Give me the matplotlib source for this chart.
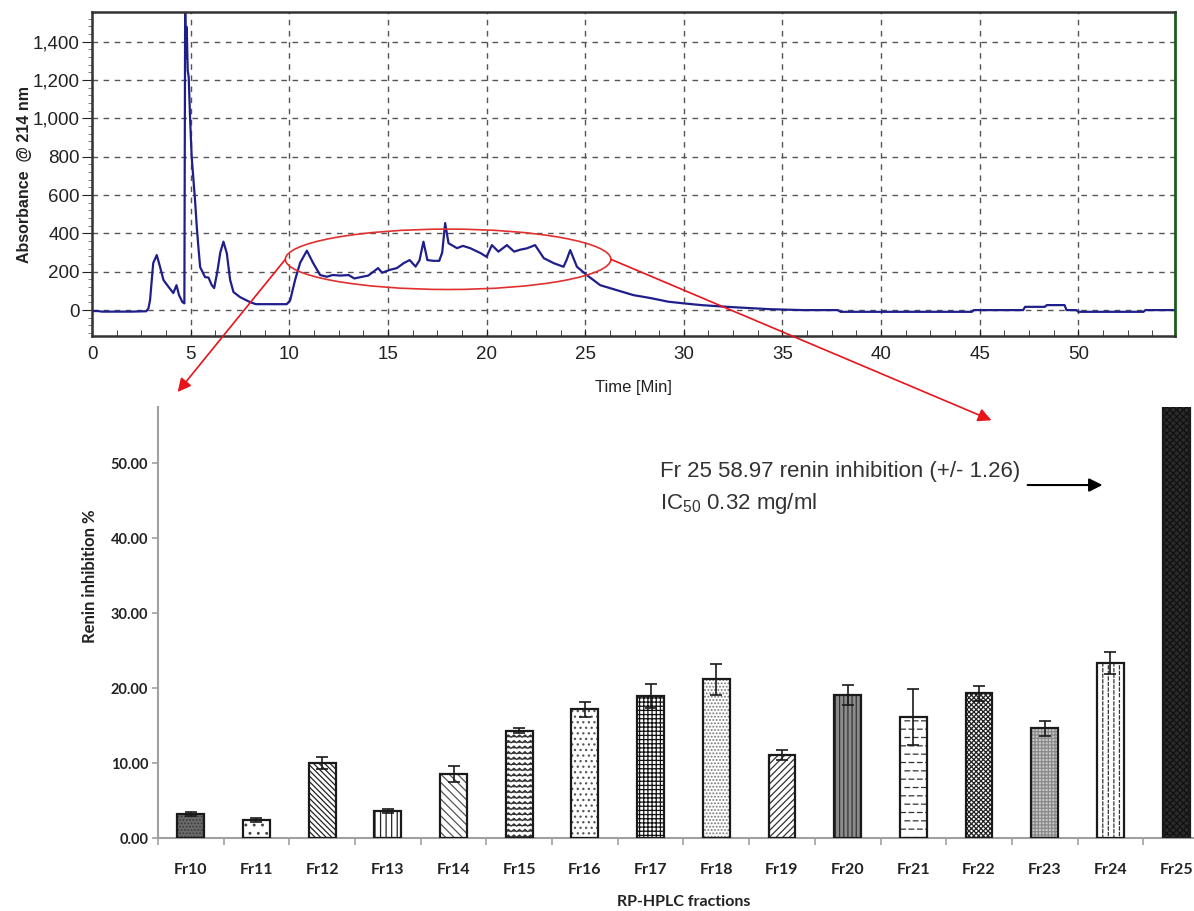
import warnings
from functools import partial

import numpy as np
import matplotlib

matplotlib.use('Agg')
import matplotlib.pyplot as plt
import matplotlib.hatch as mhatch
from matplotlib.path import Path
from matplotlib.patches import Ellipse, ConnectionPatch
from matplotlib.ticker import MultipleLocator, FuncFormatter

plt.rcParams['font.family'] = 'Liberation Sans'
plt.rcParams['hatch.linewidth'] = 0.9

# RP-HPLC chromatogram, absorbance at 214 nm
time_min = [
    0.0, 0.3, 0.5, 1.0, 2.0, 2.75, 2.86, 2.94, 3.1, 3.28,
    3.45, 3.62, 3.87, 4.12, 4.28, 4.41, 4.58, 4.68, 4.72, 4.76,
    4.80, 4.85, 4.90, 4.97, 5.05, 5.14, 5.22, 5.31, 5.39, 5.48,
    5.73, 5.90, 6.07, 6.19, 6.35, 6.50, 6.66, 6.83, 7.00, 7.17,
    7.50, 8.00, 8.30, 9.00, 9.87, 10.04, 10.30, 10.55, 10.89, 11.20,
    11.56, 11.90, 12.20, 12.60, 13.00, 13.30, 13.70, 14.00, 14.26, 14.50,
    14.70, 15.10, 15.45, 15.80, 16.10, 16.40, 16.60, 16.80, 17.00, 17.30,
    17.60, 17.75, 17.90, 18.07, 18.50, 18.80, 19.17, 19.70, 20.00, 20.27,
    20.60, 21.03, 21.40, 21.70, 22.04, 22.46, 22.90, 23.40, 23.90, 24.05,
    24.24, 24.58, 25.08, 25.76, 26.60, 27.45, 28.30, 29.20, 30.00, 30.90,
    32.20, 34.30, 36.00, 37.80, 37.95, 44.60, 44.70, 47.20, 47.30, 48.30,
    48.40, 49.30, 49.40, 49.90, 50.00, 53.30, 53.40, 55.00]
absorbance = [
    -5, -5, -8, -8, -8, -6, 10, 52, 245, 287,
    224, 157, 122, 89, 130, 78, 42, 35, 1600, 1310,
    1477, 1250, 1216, 1000, 800, 679, 574, 433, 329, 224,
    172, 170, 130, 115, 200, 300, 357, 297, 157, 94,
    68, 42, 31, 31, 31, 50, 160, 247, 310, 247,
    183, 174, 183, 180, 183, 165, 174, 180, 200, 219,
    195, 210, 219, 245, 261, 227, 260, 357, 261, 257,
    257, 300, 454, 349, 323, 335, 323, 297, 278, 339,
    305, 339, 305, 315, 322, 339, 271, 245, 226, 260,
    313, 226, 183, 130, 104, 78, 63, 44, 35, 26,
    17, 5, 0, 0, -9, -9, 0, 0, 17, 17,
    26, 26, 0, 0, -9, -9, 0, 0]

# renin inhibition of the collected fractions (mean, sd)
fractions = ['Fr10', 'Fr11', 'Fr12', 'Fr13', 'Fr14', 'Fr15', 'Fr16', 'Fr17',
             'Fr18', 'Fr19', 'Fr20', 'Fr21', 'Fr22', 'Fr23', 'Fr24', 'Fr25']
inhibition = [3.2, 2.4, 10.0, 3.65, 8.55, 14.3, 17.2, 19.0,
              21.15, 11.07, 19.05, 16.1, 19.3, 14.62, 23.33, 58.97]
inhibition_sd = [0.3, 0.3, 0.85, 0.25, 1.1, 0.35, 1.0, 1.6,
                 2.05, 0.65, 1.3, 3.75, 1.0, 0.98, 1.5, 1.26]

# fill for each bar: face colour, hatch, hatch colour
# (z = zigzag rows, _ = staggered dashes, : = vertical dashes)
bar_styles = [
    ('#6b6b6b', '.....', '#3a3a3a'),
    ('white', '..', '#444444'),
    ('white', '\\\\\\\\\\\\', '#222222'),
    ('white', '|||', '#222222'),
    ('white', '\\\\\\\\', '#555555'),
    ('white', 'zzz', '#333333'),
    ('white', '...', '#555555'),
    ('white', '++++', '#111111'),
    ('white', '.....', '#777777'),
    ('white', '/////', '#333333'),
    ('#8c8c8c', '||||', '#333333'),
    ('white', '__', '#333333'),
    ('white', 'xxxxxxx', '#222222'),
    ('#c8c8c8', '+++++', '#8a8a8a'),
    ('white', ':::', '#333333'),
    ('#2b2b2b', 'xxxxx', '#111111'),
]


class ZigZagHatch(mhatch.HatchPatternBase):
    """Rows of horizontal zigzags, one set of rows per 'z'."""

    def __init__(self, hatch, density):
        self.num_rows = int(hatch.count('z') * density)
        self.num_vertices = self.num_rows * (2 * self.num_rows + 1)

    def set_vertices_and_codes(self, vertices, codes):
        n = 2 * self.num_rows + 1
        xs = np.linspace(0.0, 1.0, n)
        amp = 0.2 / self.num_rows
        wiggle = np.where(np.arange(n) % 2 == 0, -amp, amp)
        for r in range(self.num_rows):
            seg = slice(r * n, (r + 1) * n)
            vertices[seg, 0] = xs
            vertices[seg, 1] = (r + 0.5) / self.num_rows + wiggle
            codes[seg] = Path.LINETO
            codes[r * n] = Path.MOVETO


class DashHatch(mhatch.HatchPatternBase):
    """Staggered short dashes, horizontal or vertical."""

    def __init__(self, hatch, density, char='_', vertical=False):
        self.num_rows = int(hatch.count(char) * density)
        self.vertical = vertical
        self.num_vertices = 2 * self.num_rows * self.num_rows

    def set_vertices_and_codes(self, vertices, codes):
        n = self.num_rows
        k = 0
        for r in range(n):
            for j in range(n):
                x0 = (j + 0.5 * (r % 2) + 0.1) / n
                pts = [(x0, (r + 0.5) / n), (x0 + 0.55 / n, (r + 0.5) / n)]
                for p in pts:
                    vertices[k] = p[::-1] if self.vertical else p
                    k += 1
        codes[0::2] = Path.MOVETO
        codes[1::2] = Path.LINETO


mhatch._hatch_types.extend([ZigZagHatch,
                            partial(DashHatch, char='_', vertical=False),
                            partial(DashHatch, char=':', vertical=True)])


def main():
    fig = plt.figure(figsize=(11.94, 9.11), dpi=100, facecolor='w')

    # --- chromatogram ---
    ax1 = fig.add_axes([0.0771, 0.6312, 0.9070, 0.3556])
    ax1.plot(time_min, absorbance, color='#1f1f8c', lw=1.6)
    ax1.set_xlim(0, 54.9)
    ax1.set_ylim(-135, 1555)
    ax1.xaxis.set_major_locator(MultipleLocator(5))
    ax1.xaxis.set_minor_locator(MultipleLocator(1.25))
    ax1.yaxis.set_major_locator(MultipleLocator(200))
    ax1.yaxis.set_minor_locator(MultipleLocator(40))
    ax1.yaxis.set_major_formatter(FuncFormatter(lambda v, p: f'{v:,.0f}'))
    ax1.grid(True, which='major', ls=(0, (4, 4)), color='#555555', lw=1.0)
    ax1.tick_params(axis='x', which='major', direction='in', length=5,
                    labelsize=13.5, colors='#222222', pad=7)
    ax1.tick_params(axis='x', which='minor', direction='in', length=4, color='#222222')
    ax1.tick_params(axis='y', which='major', direction='out', length=7,
                    labelsize=13.5, colors='#222222', pad=2)
    ax1.tick_params(axis='y', which='minor', direction='out', length=3, color='#666666')
    for side in ['left', 'top', 'bottom']:
        ax1.spines[side].set_color('#333333')
        ax1.spines[side].set_linewidth(1.8)
    ax1.spines['right'].set_color('#1e5a1e')
    ax1.spines['right'].set_linewidth(2.0)
    ax1.set_xlabel('Time [Min]', fontsize=12, color='#222222')
    ax1.xaxis.set_label_coords(0.5, -0.135)
    ax1.set_ylabel('Absorbance  @ 214 nm', fontsize=11.5, fontweight='bold', color='#222222')
    ax1.yaxis.set_label_coords(-0.055, 0.5)

    # highlighted region of the chromatogram
    ell_t, ell_a, ell_w, ell_h = 18.05, 265, 16.5, 315
    ax1.add_patch(Ellipse((ell_t, ell_a), ell_w, ell_h, fill=False,
                          ec='#e03030', lw=1.2, zorder=5))

    # --- renin inhibition bars ---
    ax2 = fig.add_axes([0.1323, 0.0801, 0.8802, 0.4731])
    x = np.arange(len(fractions))
    width = 0.41
    with warnings.catch_warnings():
        warnings.simplefilter('ignore')
        for i, (face, hatch, hcol) in enumerate(bar_styles):
            ax2.bar(x[i], inhibition[i], width, color=face, hatch=hatch,
                    edgecolor=hcol, lw=0, zorder=2)
            ax2.bar(x[i], inhibition[i], width, fill=False,
                    edgecolor='#1a1a1a', lw=1.6, zorder=3)
    ax2.errorbar(x, inhibition, yerr=inhibition_sd, fmt='none', ecolor='#1a1a1a',
                 elinewidth=1.2, capsize=4, capthick=1.2, zorder=4)

    ax2.set_xlim(-0.5, 15.5)
    ax2.set_ylim(0, 57.47)
    ax2.set_yticks(np.arange(0, 51, 10))
    ax2.yaxis.set_major_formatter(FuncFormatter(lambda v, p: f'{v:.2f}'))
    ax2.set_xticks(x)
    ax2.set_xticklabels(fractions)
    ax2.set_xticks(np.arange(-0.5, 16, 1), minor=True)
    ax2.tick_params(axis='x', which='major', length=0, pad=18)
    ax2.tick_params(axis='x', which='minor', direction='out', length=5,
                    color='#a0a0a0', width=1.2)
    ax2.tick_params(axis='y', direction='out', length=4, color='#a0a0a0', width=1.2, pad=3)
    for lab in ax2.get_xticklabels() + ax2.get_yticklabels():
        lab.set_fontfamily('Lato')
        lab.set_fontweight('bold')
        lab.set_color('#222222')
    for lab in ax2.get_xticklabels():
        lab.set_fontsize(11.5)
    for lab in ax2.get_yticklabels():
        lab.set_fontsize(10.5)
    ax2.spines['top'].set_visible(False)
    ax2.spines['right'].set_visible(False)
    for side in ['left', 'bottom']:
        ax2.spines[side].set_color('#a0a0a0')
        ax2.spines[side].set_linewidth(1.5)
    ax2.set_ylabel('Renin inhibition %', fontsize=12, fontweight='bold',
                   family='Lato', color='#222222')
    ax2.yaxis.set_label_coords(-0.057, 0.608)
    ax2.set_xlabel('RP-HPLC fractions', fontsize=11.5, fontweight='bold',
                   family='Lato', color='#222222')
    ax2.xaxis.set_label_coords(0.5, -0.132)

    # note on the off-scale fraction
    ax2.text(7.14, 48.1, 'Fr 25 58.97 renin inhibition (+/- 1.26)', fontsize=16,
             color='#333333', va='baseline')
    ax2.text(7.14, 43.9, r'IC$_{\mathregular{50}}$ 0.32 mg/ml', fontsize=16,
             color='#333333', va='baseline')
    ax2.annotate('', xy=(13.88, 47.07), xytext=(12.74, 47.07),
                 arrowprops=dict(arrowstyle='-|>', color='black', lw=1.5,
                                 mutation_scale=20, shrinkA=0, shrinkB=0))

    # arrows from the highlighted region down to the bar chart
    for t0, tip in [(ell_t - ell_w / 2, (-0.2, 59.47)), (ell_t + ell_w / 2, (12.19, 55.7))]:
        con = ConnectionPatch(xyA=(t0, ell_a), coordsA=ax1.transData,
                              xyB=tip, coordsB=ax2.transData,
                              arrowstyle='-|>', mutation_scale=20,
                              color='#e8141c', lw=1.2, shrinkA=0, shrinkB=0)
        fig.add_artist(con)

    fig.savefig('out.png', dpi=100)


if __name__ == '__main__':
    main()
